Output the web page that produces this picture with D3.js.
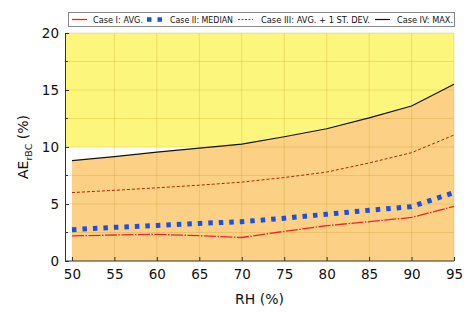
<!DOCTYPE html>
<html>
<head>
<meta charset="utf-8">
<script src="https://cdn.jsdelivr.net/npm/d3@7"></script>
<style>
  body { margin: 0; background: #fff; }
  text { font-family: "DejaVu Sans", Verdana, sans-serif; }
</style>
</head>
<body>
<svg id="chart" width="469" height="315"></svg>
<script>
// RH (%) values on the x axis
const rh = [50, 55, 60, 65, 70, 75, 80, 85, 90, 95];
// AE_rBC (%) for each case
const caseAvg = [2.2, 2.28, 2.34, 2.22, 2.06, 2.6, 3.1, 3.45, 3.82, 4.8];
const caseMedian = [2.75, 2.95, 3.12, 3.3, 3.45, 3.75, 4.1, 4.45, 4.77, 6.0];
const caseAvgSd = [6.0, 6.2, 6.42, 6.65, 6.92, 7.32, 7.8, 8.6, 9.5, 11.05];
const caseMax = [8.8, 9.15, 9.55, 9.9, 10.25, 10.9, 11.6, 12.55, 13.6, 15.5];
const xTicks = [50, 55, 60, 65, 70, 75, 80, 85, 90, 95];
const yTicks = [0, 5, 10, 15, 20];
const yMinor = [2.5, 7.5, 12.5, 17.5];
const band = [10, 20];

const margin = { top: 33, right: 15, bottom: 54, left: 65 };
const svg = d3.select("#chart");
const width = +svg.attr("width");
const height = +svg.attr("height");

const x = d3.scaleLinear().domain([49.18, 95]).range([margin.left, width - margin.right]);
const y = d3.scaleLinear().domain([0, 20]).range([height - margin.bottom, margin.top]);

// yellow band 10-20
svg.append("rect")
  .attr("x", x(49.18))
  .attr("y", y(band[1]))
  .attr("width", x(95) - x(49.18))
  .attr("height", y(band[0]) - y(band[1]))
  .attr("fill", "#fdf67c");

// orange area under the max curve
const area = d3.area()
  .x((d, i) => x(rh[i]))
  .y0(y(0))
  .y1((d) => y(d));
svg.append("path")
  .datum(caseMax)
  .attr("d", area)
  .attr("fill", "#fdd185");

// grid
const grid = svg.append("g")
  .attr("stroke", "#b08a00")
  .attr("stroke-opacity", 0.22)
  .attr("stroke-width", 1);
grid.selectAll(".gx")
  .data(xTicks.slice(1))
  .enter().append("line")
  .attr("x1", (d) => x(d)).attr("x2", (d) => x(d))
  .attr("y1", y(0)).attr("y2", y(20));
grid.selectAll(".gy")
  .data(yTicks.slice(1).concat(yMinor))
  .enter().append("line")
  .attr("x1", x(49.18)).attr("x2", x(95))
  .attr("y1", (d) => y(d)).attr("y2", (d) => y(d));

// series lines
const line = d3.line().x((d, i) => x(rh[i])).y((d) => y(d));

svg.append("path").datum(caseAvg).attr("d", line)
  .attr("fill", "none").attr("stroke", "#e8262a").attr("stroke-width", 1.3)
  .attr("stroke-dasharray", "12,1.5,1.5,1.5");
svg.append("path").datum(caseAvgSd).attr("d", line)
  .attr("fill", "none").attr("stroke", "#a82808").attr("stroke-width", 1)
  .attr("stroke-dasharray", "3,2");
svg.append("path").datum(caseMax).attr("d", line)
  .attr("fill", "none").attr("stroke", "#111").attr("stroke-width", 1.2);
svg.append("path").datum(caseMedian).attr("d", line)
  .attr("fill", "none").attr("stroke", "#1c50e4").attr("stroke-width", 5)
  .attr("stroke-dasharray", "4.5,6");

// axes
const xAxis = svg.append("g")
  .attr("transform", `translate(0,${y(0)})`)
  .call(d3.axisBottom(x).tickValues(xTicks).tickSizeInner(-4).tickSizeOuter(0).tickPadding(8));
const yAxis = svg.append("g")
  .attr("transform", `translate(${margin.left},0)`)
  .call(d3.axisLeft(y).tickValues(yTicks).tickSizeInner(-4).tickSizeOuter(0).tickPadding(6));
yAxis.selectAll(".minor")
  .data(yMinor)
  .enter().append("line")
  .attr("x1", 0).attr("x2", 3)
  .attr("y1", (d) => y(d)).attr("y2", (d) => y(d))
  .attr("stroke", "#333");
[xAxis, yAxis].forEach((a) => {
  a.select(".domain").attr("stroke", "#333");
  a.selectAll(".tick line").attr("stroke", "#333");
  a.selectAll("text").attr("font-size", 13.5).attr("fill", "#111")
    .style("font-family", "'DejaVu Sans', Verdana, sans-serif");
});
xAxis.select(".domain").attr("d", `M${margin.left},0H${x(95)}`);

// axis titles
svg.append("text")
  .attr("x", (margin.left + x(95)) / 2)
  .attr("y", 304)
  .attr("text-anchor", "middle")
  .attr("font-size", 14)
  .attr("fill", "#111")
  .text("RH (%)");

const yt = svg.append("text")
  .attr("transform", `translate(28,${(y(0) + y(20)) / 2}) rotate(-90)`)
  .attr("text-anchor", "middle")
  .attr("font-size", 14)
  .attr("fill", "#111");
yt.append("tspan").text("AE");
yt.append("tspan").attr("font-size", 9.5).attr("dy", 3.5).text("rBC");
yt.append("tspan").attr("dy", -3.5).text(" (%)");

// legend
const legendItems = [
  { label: "Case I: AVG.", stroke: "#e8262a", width: 1.3, dash: null, x0: 72, tx: 93, len: 50 },
  { label: "Case II: MEDIAN", stroke: "#1c50e4", width: 4.5, dash: "4.5,6", x0: 147, tx: 170, len: 63 },
  { label: "Case III: AVG. + 1 ST. DEV.", stroke: "#b02a10", width: 1, dash: "2,1.5", x0: 238, tx: 261, len: 109 },
  { label: "Case IV: MAX.", stroke: "#111", width: 1.2, dash: null, x0: 375, tx: 397, len: 56 }
];
const lg = svg.append("g");
lg.append("rect")
  .attr("x", 68.5).attr("y", 12.5)
  .attr("width", 386).attr("height", 14)
  .attr("fill", "#fff").attr("stroke", "#888").attr("stroke-width", 1);
const li = lg.selectAll(".li").data(legendItems).enter().append("g");
li.append("line")
  .attr("x1", (d) => d.x0).attr("x2", (d) => d.x0 + 15)
  .attr("y1", 19.5).attr("y2", 19.5)
  .attr("stroke", (d) => d.stroke)
  .attr("stroke-width", (d) => d.width)
  .attr("stroke-dasharray", (d) => d.dash);
li.append("text")
  .attr("x", (d) => d.tx)
  .attr("y", 22.8)
  .attr("font-size", 9)
  .attr("textLength", (d) => d.len)
  .attr("lengthAdjust", "spacingAndGlyphs")
  .attr("fill", "#111")
  .text((d) => d.label);
</script>
</body>
</html>
